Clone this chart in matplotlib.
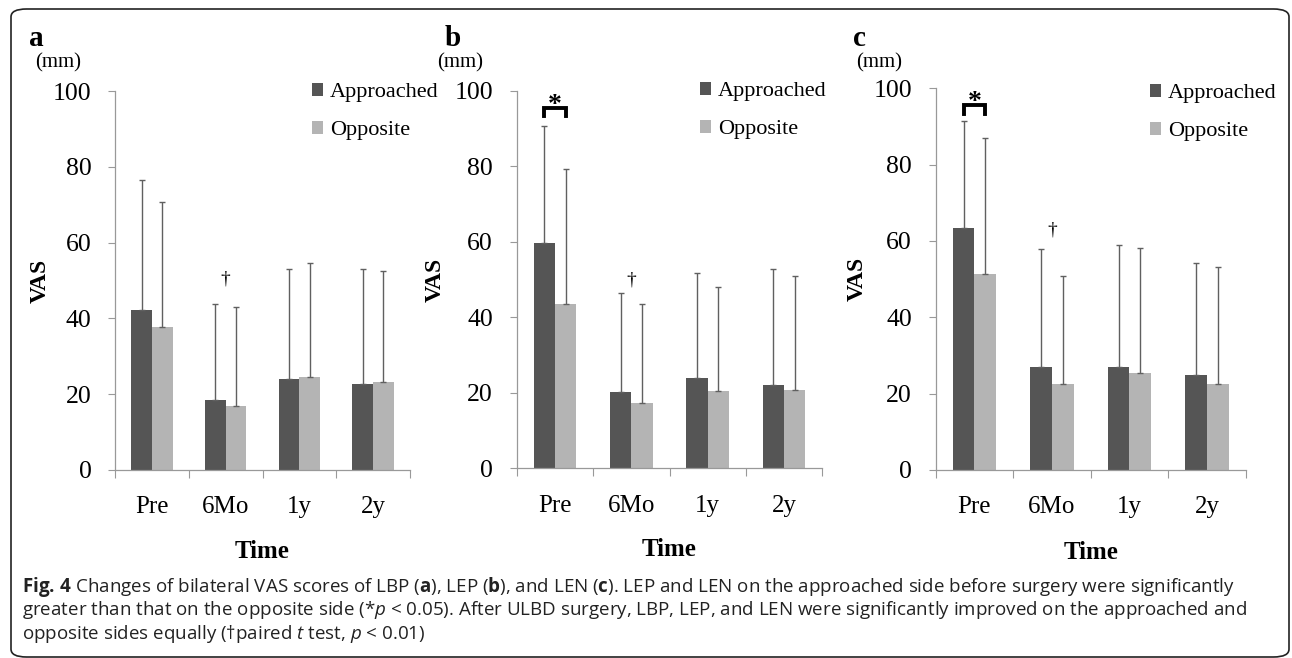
import numpy as np
import matplotlib
matplotlib.use('Agg')
import matplotlib.pyplot as plt
from matplotlib.patches import FancyBboxPatch

plt.rcParams['font.family'] = ['Liberation Serif', 'DejaVu Serif']
plt.rcParams['mathtext.fontset'] = 'custom'
plt.rcParams['mathtext.rm'] = 'Open Sans'
plt.rcParams['mathtext.it'] = 'Open Sans:italic'
plt.rcParams['mathtext.bf'] = 'Open Sans:bold'

times = ['Pre', '6Mo', '1y', '2y']
series = ['Approached', 'Opposite']

# panel a: LBP
lbp_app = [42.2, 18.6, 24.1, 22.7]
lbp_app_sd = [34.3, 25.1, 29.0, 30.4]
lbp_opp = [37.8, 16.9, 24.5, 23.1]
lbp_opp_sd = [32.9, 26.2, 30.0, 29.4]

# panel b: LEP
lep_app = [59.7, 20.1, 24.0, 22.1]
lep_app_sd = [30.9, 26.4, 27.8, 30.7]
lep_opp = [43.4, 17.4, 20.4, 20.7]
lep_opp_sd = [35.9, 26.0, 27.7, 30.3]

# panel c: LEN
len_app = [63.5, 27.1, 27.1, 25.0]
len_app_sd = [27.9, 30.7, 31.8, 29.2]
len_opp = [51.3, 22.5, 25.3, 22.5]
len_opp_sd = [35.6, 28.4, 32.8, 30.6]

# annotations
sig_pre = [False, True, True]       # * bracket on Pre
dagger_y = [50.4, 49.9, 62.9]       # height of the dagger above 6Mo

dark = '#555555'
light = '#b4b4b4'

W, H = 1292.0, 658.0
fig = plt.figure(figsize=(12.92, 6.58), dpi=100)

# rounded border
fig.patches.append(FancyBboxPatch((11 / W, 1 - 657 / H), 1278 / W, 648 / H,
                                  boxstyle='round,pad=0,rounding_size=0.012',
                                  transform=fig.transFigure, fill=False,
                                  edgecolor='#222222', linewidth=1.2))

# layout in pixels (left, top, right, bottom of plotting area)
axes_px = [(115, 91, 410, 470), (516.7, 90.7, 822.3, 468.3), (935.7, 88.3, 1245.7, 470)]
letter_px = [(36, 38), (453, 38), (859, 38)]
mm_px = [(58, 63), (460, 63), (879, 63)]
legend_px = [(303, 74), (691, 73), (1141, 75)]
vas_x = [-0.217, -0.231, -0.218]

panels = [
    ('a', lbp_app, lbp_app_sd, lbp_opp, lbp_opp_sd),
    ('b', lep_app, lep_app_sd, lep_opp, lep_opp_sd),
    ('c', len_app, len_app_sd, len_opp, len_opp_sd),
]

x = np.arange(len(times))
w = 0.28

for i, (lab, app, app_sd, opp, opp_sd) in enumerate(panels):
    l, t, r, b = axes_px[i]
    ax = fig.add_axes([l / W, 1 - b / H, (r - l) / W, (b - t) / H])
    ebk = dict(elinewidth=1.0, ecolor='#606060', capsize=2.5, capthick=1.0)
    ax.bar(x - w / 2, app, w, color=dark, label=series[0],
           yerr=[np.zeros(4), app_sd], error_kw=ebk, zorder=2)
    ax.bar(x + w / 2, opp, w, color=light, label=series[1],
           yerr=[np.zeros(4), opp_sd], error_kw=ebk, zorder=2)

    ax.set_xlim(-0.5, 3.5)
    ax.set_ylim(0, 100)
    ax.set_yticks([0, 20, 40, 60, 80, 100])
    ax.set_xticks(x)
    ax.set_xticklabels(times)
    ax.set_xticks(np.arange(-0.5, 4.0, 1.0), minor=True)
    ax.tick_params(axis='x', which='major', length=0, pad=19, labelsize=18)
    ax.tick_params(axis='x', which='minor', length=6, width=0.8, color='#999999', direction='out')
    ax.tick_params(axis='y', length=5, width=0.8, color='#999999', pad=12, labelsize=18.5)
    for s in ['top', 'right']:
        ax.spines[s].set_visible(False)
    for s in ['left', 'bottom']:
        ax.spines[s].set_color('#999999')
        ax.spines[s].set_linewidth(0.9)

    ax.set_ylabel('VAS', fontsize=17, fontweight='bold')
    ax.yaxis.set_label_coords(vas_x[i], 0.5)
    ax.set_xlabel('Time', fontsize=18, fontweight='bold')
    ax.xaxis.set_label_coords(0.5, -0.185)

    # panel letter and unit
    fig.text(letter_px[i][0] / W, 1 - letter_px[i][1] / H, lab, fontsize=21,
             fontweight='bold', ha='center', va='center')
    fig.text(mm_px[i][0] / W, 1 - mm_px[i][1] / H, '(mm)', fontsize=15,
             ha='center', va='center')

    ax.legend(loc='upper left', bbox_to_anchor=(legend_px[i][0] / W, 1 - legend_px[i][1] / H),
              bbox_transform=fig.transFigure, frameon=False,
              fontsize=16, handlelength=0.5, handleheight=0.5,
              handletextpad=0.3, labelspacing=0.85, borderaxespad=0)

    # dagger above 6Mo
    ax.text(1, dagger_y[i], '\u2020', fontsize=14, ha='center', va='center')

    # significance bracket on Pre
    if sig_pre[i]:
        xs = [-w / 2, -w / 2, w / 2, w / 2]
        ys = [93.3, 95.5, 95.5, 93.3]
        ax.plot(xs, ys, color='black', lw=2.8, solid_joinstyle='miter', zorder=3)
        ax.text(0, 96.2, '*', fontsize=20, ha='center', va='center', fontweight='bold')

# caption
cap_kw = dict(fontsize=13.5, family='Open Sans', color='#222222', ha='left', va='center')
fig.text(22 / W, 1 - 587 / H,
         r'$\mathbf{Fig.\,4}$ Changes of bilateral VAS scores of LBP ($\mathbf{a}$), LEP ($\mathbf{b}$), and LEN ($\mathbf{c}$). '
         'LEP and LEN on the approached side before surgery were significantly', **cap_kw)
fig.text(22 / W, 1 - 610 / H,
         'greater than that on the opposite side (*$p$ < 0.05). After ULBD surgery, LBP, LEP, and LEN were '
         'significantly improved on the approached and', **cap_kw)
fig.text(22 / W, 1 - 634 / H,
         'opposite sides equally (\u2020paired $t$ test, $p$ < 0.01)', **cap_kw)

fig.savefig('out.png', dpi=100)
